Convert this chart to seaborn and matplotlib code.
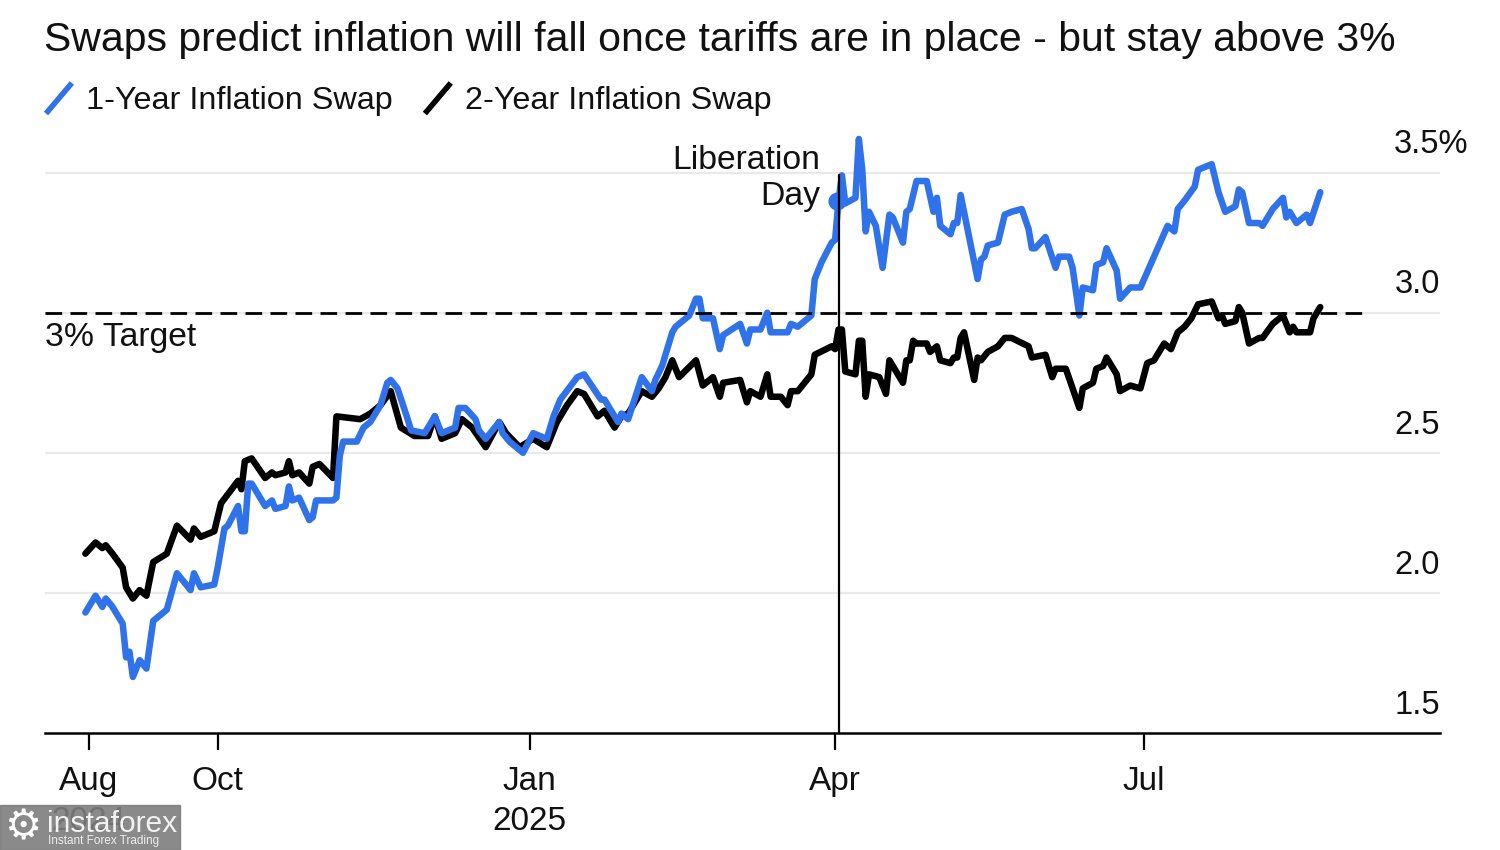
import numpy as np
import pandas as pd
import matplotlib.pyplot as plt
from matplotlib.legend_handler import HandlerBase
from matplotlib.lines import Line2D
from matplotlib.patches import Rectangle
import seaborn as sns

# days counted from the first observation, values in percent
start_date = "2024-08-22"
days_1y = [1, 4, 6, 7, 9, 12, 13, 14, 15, 17, 19, 21, 25, 28, 32, 33, 35, 39, 40, 42, 43, 46, 47, 48, 49, 50,
           54, 56, 57, 60, 61, 62, 64, 67, 68, 69, 74, 75, 76, 77, 81, 83, 85, 88, 90, 91, 93, 96, 97, 101,
           104, 106, 110, 111, 113, 116, 117, 119, 123, 124, 126, 130, 133, 137, 139, 141, 146, 148, 153, 154,
           156, 158, 159, 161, 165, 168, 169, 171, 174, 175, 179, 181, 182, 183, 186, 188, 189, 194, 196, 197,
           200, 202, 203, 208, 209, 211, 215, 216, 218, 221, 222, 223, 224, 225, 228, 229, 230, 231, 232, 234,
           236, 238, 239, 242, 243, 244, 246, 249, 251, 252, 253, 256, 257, 258, 259, 264, 265, 266, 267, 270,
           272, 274, 277, 279, 280, 281, 284, 287, 288, 291, 292, 294, 295, 298, 299, 301, 302, 305, 306, 309,
           312, 320, 322, 323, 325, 328, 329, 333, 335, 337, 340, 341, 342, 344, 347, 348, 351, 354, 355, 356,
           358, 361, 362, 365]
swap_1y = [1.93, 1.99, 1.95, 1.98, 1.95, 1.89, 1.77, 1.79, 1.70, 1.76, 1.73, 1.90, 1.94, 2.07, 2.01, 2.07, 2.02, 2.03, 2.09, 2.23, 2.24, 2.31, 2.22, 2.22, 2.39, 2.39,
           2.31, 2.33, 2.30, 2.31, 2.38, 2.33, 2.34, 2.26, 2.27, 2.33, 2.33, 2.34, 2.49, 2.54, 2.54, 2.59, 2.61, 2.67, 2.75, 2.76, 2.73, 2.62, 2.58, 2.57,
           2.63, 2.57, 2.59, 2.66, 2.66, 2.62, 2.58, 2.55, 2.61, 2.57, 2.54, 2.50, 2.57, 2.55, 2.63, 2.69, 2.77, 2.78, 2.69, 2.69,
           2.65, 2.61, 2.64, 2.62, 2.77, 2.72, 2.76, 2.81, 2.93, 2.95, 2.99, 3.05, 3.05, 2.98, 2.98, 2.87, 2.92, 2.96, 2.89, 2.94,
           2.94, 3.00, 2.93, 2.93, 2.96, 2.95, 2.99, 3.12, 3.18, 3.25, 3.26, 3.40, 3.49, 3.39, 3.41, 3.62, 3.51, 3.29, 3.36, 3.31,
           3.16, 3.35, 3.34, 3.25, 3.36, 3.37, 3.47, 3.47, 3.36, 3.41, 3.31, 3.28, 3.32, 3.32, 3.42, 3.12, 3.19, 3.20, 3.24, 3.25,
           3.35, 3.36, 3.37, 3.30, 3.23, 3.23, 3.27, 3.16, 3.20, 3.20, 3.16, 2.99, 3.09, 3.08, 3.17, 3.18, 3.23, 3.15, 3.05, 3.09,
           3.09, 3.31, 3.29, 3.37, 3.40, 3.45, 3.51, 3.53, 3.43, 3.36, 3.38, 3.44, 3.43, 3.32, 3.32, 3.31, 3.37, 3.41, 3.34, 3.36,
           3.32, 3.35, 3.32, 3.43]

days_2y = [1, 4, 6, 7, 9, 12, 13, 15, 17, 19, 21, 25, 28, 32, 33, 35, 39, 41, 46, 47, 48, 50, 54, 56, 57, 60,
           61, 62, 64, 67, 68, 70, 74, 75, 82, 85, 88, 91, 94, 98, 102, 104, 106, 110, 112, 115, 119, 123, 125, 129,
           133, 137, 140, 143, 146, 148, 152, 154, 157, 159, 161, 165, 168, 170, 172, 174, 176, 181, 183, 186,
           188, 189, 194, 196, 197, 200, 202, 203, 206, 208, 209, 211, 215, 216, 221, 222, 223, 224, 225, 228,
           229, 230, 231, 232, 235, 237, 238, 242, 243, 244, 245, 246, 249, 250, 252, 253, 256, 257, 258, 259,
           260, 263, 264, 265, 267, 270, 272, 274, 279, 280, 284, 286, 287, 290, 294, 295, 298, 299, 301, 302,
           305, 306, 309, 312, 314, 316, 319, 321, 323, 325, 327, 329, 333, 335, 336, 337, 340, 341, 342, 344,
           347, 348, 351, 354, 356, 357, 358, 362, 363, 365]
swap_2y = [2.14, 2.18, 2.16, 2.17, 2.14, 2.09, 2.02, 1.98, 2.01, 1.99, 2.11, 2.14, 2.24, 2.19, 2.23, 2.20, 2.22, 2.32, 2.40, 2.37, 2.47, 2.48, 2.41, 2.43, 2.42, 2.43,
           2.47, 2.42, 2.43, 2.39, 2.45, 2.46, 2.41, 2.63, 2.62, 2.64, 2.67, 2.72, 2.59, 2.56, 2.56, 2.63, 2.55, 2.57, 2.62, 2.59, 2.52, 2.61, 2.57, 2.52,
           2.55, 2.52, 2.61, 2.67, 2.72, 2.71, 2.63, 2.65, 2.59, 2.63, 2.64, 2.72, 2.70, 2.73, 2.77, 2.83, 2.77, 2.83, 2.74, 2.77,
           2.70, 2.75, 2.76, 2.68, 2.72, 2.70, 2.78, 2.70, 2.70, 2.67, 2.72, 2.72, 2.78, 2.85, 2.88, 2.87, 2.94, 2.94, 2.79, 2.78,
           2.90, 2.90, 2.70, 2.78, 2.77, 2.71, 2.83, 2.75, 2.83, 2.83, 2.90, 2.89, 2.89, 2.86, 2.88, 2.83, 2.82, 2.84, 2.84, 2.91,
           2.93, 2.76, 2.84, 2.83, 2.86, 2.88, 2.91, 2.91, 2.88, 2.84, 2.85, 2.77, 2.80, 2.80, 2.66, 2.73, 2.75, 2.80, 2.81, 2.84,
           2.78, 2.72, 2.74, 2.73, 2.82, 2.83, 2.89, 2.87, 2.93, 2.95, 2.98, 3.03, 3.04, 2.98, 2.99, 2.96, 2.97, 3.02, 3.00, 2.89,
           2.91, 2.91, 2.96, 2.99, 2.93, 2.95, 2.93, 2.93, 2.98, 3.02]

series_names = ["1-Year Inflation Swap", "2-Year Inflation Swap"]
series_colors = ["#2f72ea", "#000000"]
y_ticks = [1.5, 2.0, 2.5, 3.0, 3.5]
y_labels = ["1.5", "2.0", "2.5", "3.0", "3.5%"]
x_tick_dates = ["2024-08-24", "2024-10-01", "2025-01-01", "2025-04-01", "2025-07-01"]
x_tick_labels = ["Aug\n2024", "Oct", "Jan\n2025", "Apr", "Jul"]
liberation_day = "2025-04-02"
target = 3.0

sns.set_theme(style="white")
plt.rcParams['font.family'] = ['Liberation Sans', 'DejaVu Sans']

start = pd.Timestamp(start_date)
df = pd.concat([
    pd.DataFrame({"date": start + pd.to_timedelta(days_2y, unit="D"), "swap": swap_2y, "series": series_names[1]}),
    pd.DataFrame({"date": start + pd.to_timedelta(days_1y, unit="D"), "swap": swap_1y, "series": series_names[0]}),
])

W, H = 1500, 850
fig = plt.figure(figsize=(15, 8.5), dpi=100)
ax = fig.add_axes([45 / W, 1 - 733 / H, 1395 / W, 603 / H])

for v in y_ticks[1:]:
    ax.axhline(v, color="#e9e9e9", lw=1.6, zorder=0)

sns.lineplot(data=df, x="date", y="swap", hue="series", hue_order=series_names[::-1],
             palette=dict(zip(series_names, series_colors)), estimator=None, linewidth=4.7,
             legend=False, ax=ax, zorder=3)
for line in ax.get_lines():
    line.set_solid_joinstyle("round")

ax.set_xlim(start - pd.Timedelta(days=10.9), start + pd.Timedelta(days=400.3))
ax.set_ylim(1.5, 3.652)
ax.set_xlabel("")
ax.set_ylabel("")

# target line, event line and marker
ax.plot([0, 0.944], [target, target], transform=ax.get_yaxis_transform(), color="black",
        lw=2, dashes=(6, 3), zorder=4)
lib = pd.Timestamp(liberation_day)
ax.plot([lib, lib], [1.5, 3.49], color="black", lw=1.6, zorder=5)
ax.scatter([lib - pd.Timedelta(days=0.4)], [3.40], s=170, color=series_colors[0], zorder=4, linewidths=0)

ax.annotate("Liberation\nDay", xy=(lib, 3.40), xytext=(-13.5, 16), textcoords="offset points",
            ha="right", va="center", fontsize=24.3, color="#111111", linespacing=1.2)
ax.annotate("3% Target", xy=(0, target), xycoords=ax.get_yaxis_transform(), xytext=(0, -18),
            textcoords="offset points", ha="left", va="center", fontsize=24.3, color="#111111")

# y labels sit above their gridlines at the right edge
ax.set_yticks([])
for v, lab in zip(y_ticks, y_labels):
    if lab.endswith("%"):
        ax.annotate(lab, xy=(1, v), xycoords=ax.get_yaxis_transform(), xytext=(-33, 20),
                    textcoords="offset points", ha="left", va="center", fontsize=23.5,
                    color="#111111", annotation_clip=False)
    else:
        ax.annotate(lab, xy=(1, v), xycoords=ax.get_yaxis_transform(), xytext=(0, 20),
                    textcoords="offset points", ha="right", va="center", fontsize=23.5,
                    color="#111111", annotation_clip=False)

ax.set_xticks(pd.to_datetime(x_tick_dates))
ax.set_xticklabels(x_tick_labels, fontsize=24, color="#111111", linespacing=1.35)
ax.tick_params(axis="x", bottom=True, length=12, width=1.6, color="black", pad=12)
sns.despine(ax=ax, left=True, top=True, right=True)
ax.spines["bottom"].set_color("black")
ax.spines["bottom"].set_linewidth(1.8)
ax.set_facecolor("white")


class SlashHandler(HandlerBase):
    def create_artists(self, legend, orig, x0, y0, width, height, fontsize, trans):
        ln = Line2D([x0, x0 + width], [y0 - 0.2 * height, y0 + 1.15 * height],
                    color=orig.get_color(), lw=4, transform=trans, solid_capstyle="butt")
        return [ln]


handles = [Line2D([], [], color=c) for c in series_colors]
fig.legend(handles, series_names, handler_map={Line2D: SlashHandler()}, loc="upper left",
           bbox_to_anchor=(46 / W, 1 - 86 / H), ncols=2, frameon=False, fontsize=23.3,
           borderpad=0, borderaxespad=0, handlelength=0.8, handletextpad=0.45, columnspacing=0.98,
           labelcolor="#111111")

fig.text(44 / W, 1 - 40 / H, "Swaps predict inflation will fall once tariffs are in place - but stay above 3%",
         fontsize=29.5, color="#111111", ha="left", va="center")

# watermark in the lower left corner
fig.add_artist(Rectangle((0, 0), 180 / W, 45 / H, transform=fig.transFigure, color="#7d7d7d", alpha=0.9, zorder=10))
fig.text(23 / W, 1 - 827 / H, "\u2699", fontsize=30, color="white", family="DejaVu Sans",
         ha="center", va="center", zorder=11)
fig.text(47 / W, 1 - 824 / H, "instaforex", fontsize=21.6, color="#f2f2f2", ha="left", va="center", zorder=11)
fig.text(48 / W, 1 - 841 / H, "Instant Forex Trading", fontsize=8.5, color="#eeeeee", ha="left", va="center", zorder=11)

fig.savefig("out.png", dpi=100, facecolor="white")
